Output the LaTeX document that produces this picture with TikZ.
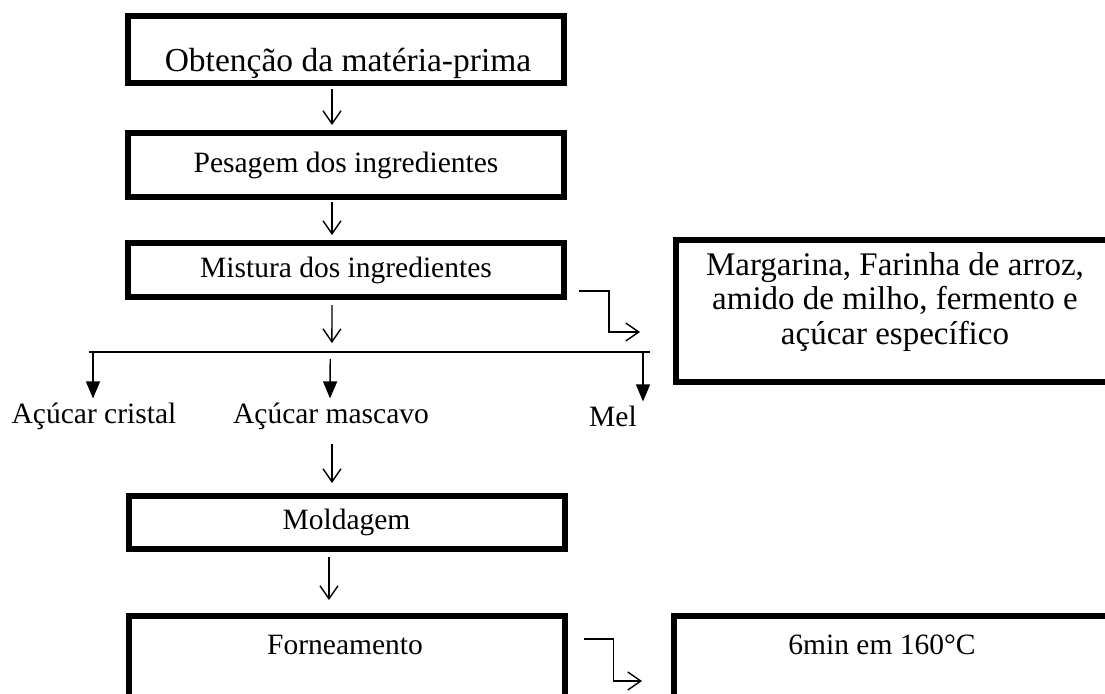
\documentclass[tikz,border=0pt]{standalone}
\usepackage{fontspec}
\setmainfont{Liberation Serif}
\usetikzlibrary{arrows.meta,calc}
\begin{document}
\begin{tikzpicture}[x=1pt,y=-1pt,
  box/.style={draw,line width=6pt,minimum width=436pt,inner sep=0pt,outer sep=0pt},
  txt/.style={font=\fontsize{29.5}{35}\selectfont,inner sep=0pt,align=center},
  bigtxt/.style={font=\fontsize{33.5}{40}\selectfont,inner sep=0pt,align=center},
  arr/.style={line width=1.4pt,-{Straight Barb[length=13pt,width=18pt]}},
  farr/.style={line width=1.4pt,-{Triangle[length=17pt,width=14pt]}},
  ln/.style={line width=1.8pt}]
\useasboundingbox (0,0) rectangle (1105,693);
\clip (0,0) rectangle (1105,693);
% main column boxes
\node[box,minimum height=67pt] (b1) at (346,49.5) {};
\node[bigtxt] (t1) at (348,63) {Obtenção da matéria-prima};
\node[box,minimum height=64pt,txt] (b2) at (346,165) {Pesagem dos ingredientes};
\node[box,minimum height=54pt,txt] (b3) at (346,270) {Mistura dos ingredientes};
\node[box,minimum height=53pt,txt] (b4) at (346.5,522.5) {Moldagem};
\node[box,minimum height=94pt] (b5) at (346.5,663) {};
\node[txt] (t5) at (345,645) {Forneamento};
% right boxes
\node[box,minimum width=439pt,minimum height=142pt] (r1) at (895.5,311) {};
\node[txt,font=\fontsize{33}{34.5}\selectfont] (tr1) at (895,302) {Margarina, Farinha de arroz,\\amido de milho, fermento e\\açúcar específico};
\node[box,minimum width=441pt,minimum height=94pt] (r2) at (894.5,663) {};
\node[txt] (tr2) at (882,645) {6min em 160°C};
% split labels
\node[txt] (s1) at (94,416) {Açúcar cristal};
\node[txt] (s2) at (331,416) {Açúcar mascavo};
\node[txt] (s3) at (613,416) {Mel};
% coordinates
\coordinate (hl) at (89,352);
\coordinate (hr) at (650,352);
% vertical arrows
\draw[arr] ($(b1.south)+(-14,6)$) -- ($(b2.north)+(-14,-8)$);
\draw[arr] ($(b2.south)+(-14,5)$) -- ($(b3.north)+(-14,-8)$);
\draw[arr] ($(b3.south)+(-14,8)$) -- ($(hl)!0.433!(hr)+(0,-9)$);
\draw[ln] (hl) -- (hr);
\draw[farr] ($(hl)+(4,0)$) -- ($(s1.north)+(-1,-4)$);
\draw[farr] ($(hl)!0.43!(hr)+(0,7)$) -- ($(s2.north)+(-1,-4)$);
\draw[farr] ($(hr)+(-7,0)$) -- ($(s3.north)+(30,-4)$);
\draw[arr] ($(s2.south)+(1,14)$) -- ($(b4.north)+(-14.5,-13)$);
\draw[arr] ($(b4.south)+(-17.5,8)$) -- ($(b5.north)+(-17.5,-16)$);
% bent arrows
\draw[arr] ($(b3.east)+(15,21)$) -| ++(30,41) -- ($(r1.west)+(-36,21)$);
\draw[arr] ($(b5.east)+(19,-24)$) -| ++(30,42) -- ($(r2.west)+(-32,18)$);
\end{tikzpicture}
\end{document}
